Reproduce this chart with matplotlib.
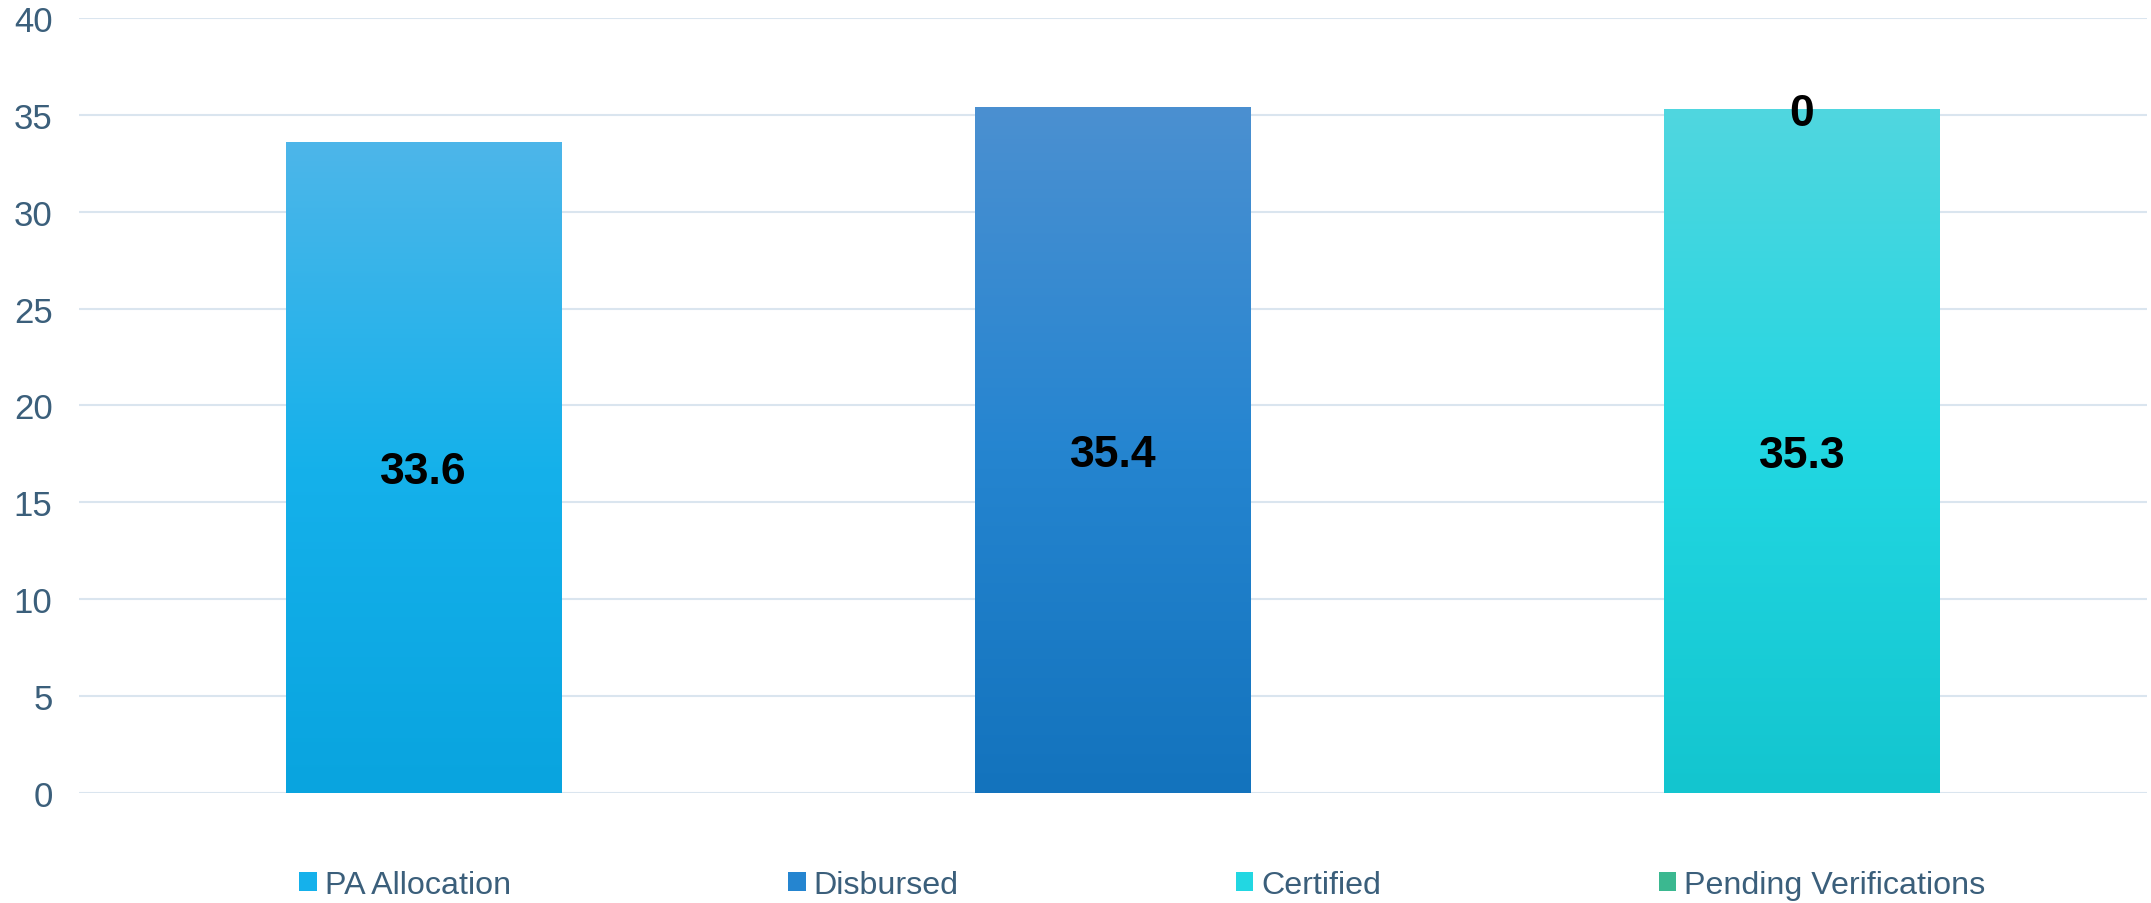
import matplotlib
matplotlib.use("Agg")
import matplotlib.pyplot as plt
import numpy as np
from matplotlib.colors import LinearSegmentedColormap
from matplotlib.patches import Patch

plt.rcParams["font.family"] = ["Liberation Sans", "DejaVu Sans"]

series = ["PA Allocation", "Disbursed", "Certified", "Pending Verifications"]
pa_alloc = [33.6]
disbursed = [35.4]
certified = [35.3]
pending = [0]

# gradient stops top -> bottom
grads = {
    "PA Allocation": ["#4DB6E9", "#15B1EB", "#09A4DF"],
    "Disbursed": ["#4B90D1", "#2585D0", "#1373BD"],
    "Certified": ["#50D6DF", "#22D7E2", "#13C5CF"],
    "Pending Verifications": ["#4CC29B", "#3BB890", "#2BAE84"],
}
text_col = "#3B5F7B"
grid_col = "#DAE5EF"

fig = plt.figure(figsize=(21.51, 9.04), dpi=100)
ax = fig.add_axes([0.0367, 0.1217, 0.9613, 0.8573])

# (series, x slot, bottom, value); Certified and Pending share a stacked bar
segments = [
    ("PA Allocation", 0, 0, pa_alloc[0]),
    ("Disbursed", 1, 0, disbursed[0]),
    ("Certified", 2, 0, certified[0]),
    ("Pending Verifications", 2, certified[0], pending[0]),
]

width = 0.4
for name, x, bottom, val in segments:
    ax.bar(x, val, width, bottom=bottom, color="none", zorder=2)
    if val > 0:
        cmap = LinearSegmentedColormap.from_list(name, grads[name][::-1])
        grad = np.linspace(0, 1, 256).reshape(-1, 1)
        ax.imshow(grad, cmap=cmap, origin="lower", aspect="auto",
                  extent=(x - width / 2, x + width / 2, bottom, bottom + val),
                  zorder=2, interpolation="bicubic")
    ax.text(x, bottom + val / 2, f"{val:g}", ha="center", va="center_baseline",
            fontsize=32, fontweight="bold", color="black", zorder=4)

ax.set_xlim(-0.5, 2.5)
ax.set_ylim(0, 40)
ax.set_yticks(range(0, 41, 5))
ax.set_xticks([])
ax.yaxis.grid(True, color=grid_col, linewidth=1.5)
ax.set_axisbelow(True)
for s in ax.spines.values():
    s.set_visible(False)
ax.tick_params(axis="y", length=0, pad=19, labelsize=25, labelcolor=text_col)

handles = [Patch(facecolor=grads[s][1], edgecolor="none") for s in series]
fig.legend(handles, series, loc="center", bbox_to_anchor=(0.531, 0.02), ncol=4,
           frameon=False, fontsize=23.2, labelcolor=text_col, handlelength=0.55,
           handleheight=0.55, handletextpad=0.25, columnspacing=8.6, borderpad=0)

fig.savefig("out.png", dpi=100)
plt.close(fig)
